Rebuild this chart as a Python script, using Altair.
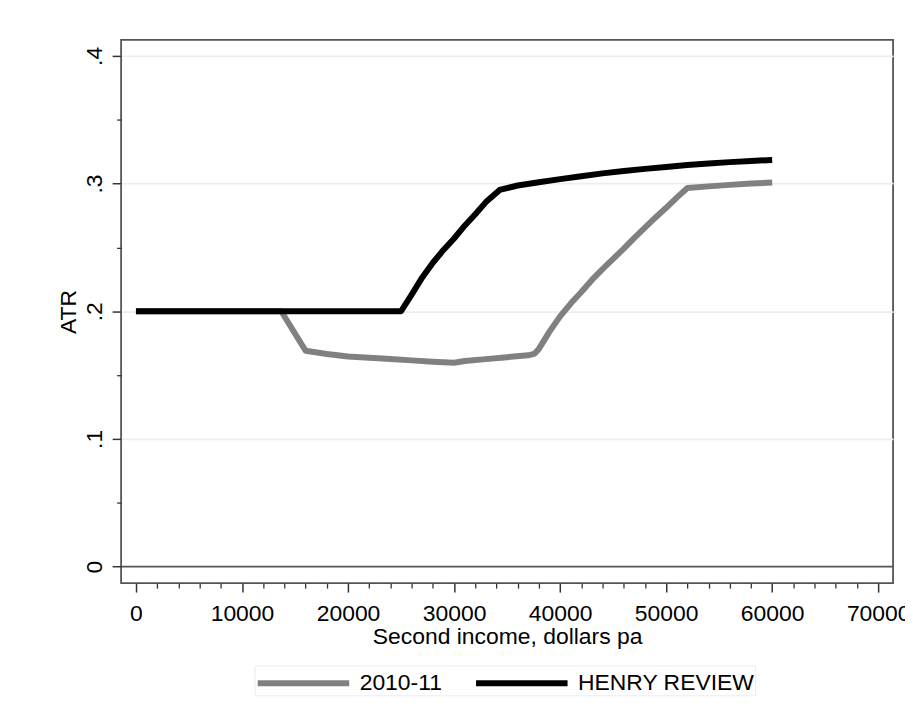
import altair as alt
import pandas as pd

# ---- data ----
series_names = ["2010-11", "HENRY REVIEW"]
series_colors = ["#808080", "#000000"]

gray_income = [0, 13700, 16000, 18000, 20000, 22000, 24000, 26000, 28000, 30000,
               31000, 33000, 35000, 37000, 37600, 38000, 39000, 40000, 41000, 42000,
               43000, 44000, 45000, 46000, 47000, 48000, 49000, 50000, 51000, 52000,
               54000, 56000, 58000, 60000]
gray_atr = [0.200, 0.200, 0.169, 0.1665, 0.1645, 0.1635, 0.1625, 0.1615, 0.1605, 0.1597,
            0.1610, 0.1625, 0.1640, 0.1655, 0.1668, 0.1705, 0.184, 0.196, 0.206, 0.215,
            0.2245, 0.233, 0.241, 0.249, 0.2575, 0.2655, 0.2735, 0.281, 0.289, 0.2965,
            0.2978, 0.2990, 0.3000, 0.3008]

henry_income = [0, 25000, 26000, 27000, 28000, 29000, 30000, 31000, 32000, 33000,
                34300, 36000, 38000, 40000, 42000, 44000, 46000, 48000, 50000, 52000,
                54000, 56000, 58000, 60000]
henry_atr = [0.200, 0.200, 0.213, 0.2265, 0.238, 0.248, 0.257, 0.267, 0.276, 0.2855,
             0.2950, 0.2985, 0.3010, 0.3035, 0.3058, 0.3080, 0.3098, 0.3115, 0.3130, 0.3145,
             0.3157, 0.3168, 0.3177, 0.3185]

x_major = [0, 10000, 20000, 30000, 40000, 50000, 60000, 70000]
x_minor = [v for v in range(2000, 70000, 2000) if v % 10000 != 0]
y_major = [0, 0.1, 0.2, 0.3, 0.4]
y_major_labels = ["0", ".1", ".2", ".3", ".4"]
y_minor = [0.05, 0.15, 0.25, 0.35]

x_title = "Second income, dollars pa"
y_title = "ATR"

rows = []
for xv, yv in zip(gray_income, gray_atr):
    rows.append({"income": xv, "atr": yv, "series": series_names[0]})
for xv, yv in zip(henry_income, henry_atr):
    rows.append({"income": xv, "atr": yv, "series": series_names[1]})
df = pd.DataFrame(rows)

FONT = "Liberation Sans"
W, H = 776, 546

xscale = alt.Scale(domain=[-1400, 71400], nice=False, zero=False)
yscale = alt.Scale(domain=[-0.013, 0.4125], nice=False, zero=False)

label_map = "{" + ",".join(f"'{v}':'{l}'" for v, l in zip(y_major, y_major_labels)) + "}"

x_axis_major = alt.Axis(
    orient="bottom", values=x_major, format="d", grid=False, domain=False,
    ticks=True, tickSize=9, tickColor="#333333", tickWidth=1.5,
    labelFont=FONT, labelFontSize=23, labelColor="#000000", labelPadding=11,
    labelBaseline="top", labelFlush=False, labelOverlap=False,
    title=x_title, titleFont=FONT, titleFontSize=23, titleFontWeight="normal",
    titleColor="#000000", titleBaseline="alphabetic", titleY=60.8, titleX=W / 2,
    titleAnchor="middle",
)
y_axis_major = alt.Axis(
    orient="left", values=y_major, grid=True,
    gridColor={"condition": {"test": "datum.value === 0", "value": "#555555"}, "value": "#e6eff2"},
    gridWidth=1.8, domain=False,
    ticks=True, tickSize=9, tickColor="#333333", tickWidth=1.5,
    labelExpr=f"{label_map}[''+datum.value]",
    labelFont=FONT, labelFontSize=23, labelColor="#000000", labelPadding=11,
    labelAngle=-90, labelAlign="center", labelBaseline="alphabetic",
    labelFlush=False, labelOverlap=False,
    title=y_title, titleFont=FONT, titleFontSize=23, titleFontWeight="normal",
    titleColor="#000000", titleAngle=-90, titleBaseline="alphabetic",
    titleX=-45.7, titleY=H / 2, titleAlign="center",
)
x_axis_minor = alt.Axis(
    orient="bottom", values=x_minor, labels=False, grid=False, domain=False,
    ticks=True, tickSize=5, tickColor="#333333", tickWidth=1.3, title=None,
)
y_axis_minor = alt.Axis(
    orient="left", values=y_minor, labels=False, grid=False, domain=False,
    ticks=True, tickSize=4.5, tickColor="#333333", tickWidth=1.3, title=None,
)

# legend key: a 92px stroke drawn from the entry's left edge (symbol size 900 -> unit = 15px)
legend_symbol_path = "M-1,0H5.133"

color = alt.Color(
    "series:N",
    scale=alt.Scale(domain=series_names, range=series_colors),
    sort=series_names,
    legend=alt.Legend(
        orient="none", legendX=134.3, legendY=628.7, direction="horizontal",
        title=None, symbolType=legend_symbol_path, symbolSize=900, symbolStrokeWidth=6,
        labelFont=FONT, labelFontSize=23, labelColor="#000000", labelOffset=69.5,
        columnPadding=21.5, padding=0, strokeColor="#e6eff2", labelLimit=400,
    ),
)

lines = alt.Chart(df).mark_line(strokeWidth=6, strokeCap="butt", strokeJoin="round").encode(
    x=alt.X("income:Q", scale=xscale, axis=x_axis_major),
    y=alt.Y("atr:Q", scale=yscale, axis=y_axis_major),
    color=color,
    order=alt.Order("income:Q"),
)

minor = alt.Chart(df).mark_point(opacity=0).encode(
    x=alt.X("income:Q", scale=xscale, axis=x_axis_minor),
    y=alt.Y("atr:Q", scale=yscale, axis=y_axis_minor),
)

chart = alt.layer(minor, lines).resolve_axis(x="independent", y="independent").properties(
    width=W, height=H,
    autosize=alt.AutoSizeParams(type="none"),
    padding={"left": 113.7, "top": 30.3, "right": 12, "bottom": 128},
    background="#ffffff",
).configure_view(stroke="#555555", strokeWidth=1.8)

chart.save("out.html", embed_options={"renderer": "svg", "actions": False})
